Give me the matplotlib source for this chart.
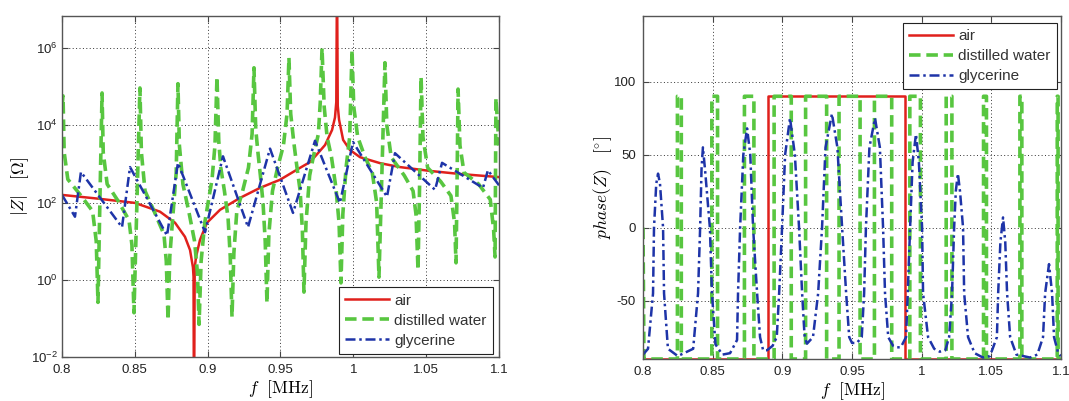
import matplotlib
matplotlib.use("Agg")
import matplotlib.pyplot as plt
from matplotlib.ticker import FixedLocator, FixedFormatter, NullLocator

plt.rcParams['font.family'] = ['Liberation Sans', 'DejaVu Sans']
plt.rcParams['mathtext.fontset'] = 'cm'

# ---------------- data ----------------
series_names = ['air', 'distilled water', 'glycerine']
xticks = [0.8, 0.85, 0.9, 0.95, 1.0, 1.05, 1.1]
xtick_labels = ['0.8', '0.85', '0.9', '0.95', '1', '1.05', '1.1']
z_yticks = [1e-2, 1e0, 1e2, 1e4, 1e6]
z_ytick_labels = [r'$\mathregular{10^{-2}}$', r'$\mathregular{10^{0}}$', r'$\mathregular{10^{2}}$',
                  r'$\mathregular{10^{4}}$', r'$\mathregular{10^{6}}$']
ph_yticks = [-50, 0, 50, 100]
ph_ytick_labels = ['-50', '0', '50', '100']

# |Z| of air (f in MHz, |Z| in Ohm)
air_f = [0.8, 0.825, 0.8501, 0.8673, 0.8776, 0.8844, 0.8879, 0.8899, 0.8903, 0.8906, 0.8911,
         0.892, 0.8947, 0.8995, 0.9085, 0.9222, 0.9359, 0.9497, 0.9634, 0.9703, 0.9757,
         0.9806, 0.9854, 0.9874, 0.9883, 0.9888, 0.9893, 0.9902, 0.993, 0.9977, 1.0046,
         1.0183, 1.032, 1.0526, 1.0732, 1.1]
air_z = [158, 126, 98, 58, 30, 13, 5.9, 2.1, 1.2, 1e-4, 2.0,
         3.9, 10.7, 30, 65, 132, 240, 390, 794, 1120, 1900,
         3100, 7600, 1.6e4, 4e4, 1e8, 3.2e4, 1.4e4, 4.2e3, 2.3e3, 1.5e3,
         1.05e3, 830, 660, 550, 457]

# |Z| of distilled water
water_f = [0.8, 0.8007, 0.8015, 0.804, 0.8125, 0.821, 0.8235, 0.8247,
           0.8261, 0.8275, 0.8283, 0.831, 0.8385, 0.846, 0.848, 0.8494,
           0.8514, 0.8535, 0.8545, 0.857, 0.8632, 0.870, 0.8716, 0.8728,
           0.874, 0.8762, 0.8784, 0.8796, 0.8806, 0.883, 0.887, 0.891, 0.893, 0.8941,
           0.8955, 0.898, 0.9003, 0.903, 0.905, 0.9064, 0.9076, 0.909, 0.9115, 0.914, 0.9155, 0.9167,
           0.918, 0.920, 0.924, 0.928, 0.9305, 0.9318, 0.933, 0.9345, 0.9362, 0.938, 0.9395, 0.9407,
           0.942, 0.9445, 0.948, 0.952, 0.9545, 0.9558, 0.957, 0.959, 0.961, 0.9635, 0.965, 0.9661,
           0.9675, 0.970, 0.9725, 0.976, 0.9773, 0.9785, 0.980, 0.982, 0.985, 0.988, 0.9902, 0.9915,
           0.9928, 0.995, 0.9975, 0.9991, 1.0003, 1.003, 1.008, 1.013, 1.016, 1.0176,
           1.0195, 1.0217, 1.023, 1.026, 1.035, 1.041, 1.043, 1.0444,
           1.0455, 1.0465, 1.0478, 1.051, 1.060, 1.067, 1.0695, 1.0705,
           1.0712, 1.0719, 1.0732, 1.076, 1.086, 1.094, 1.0963, 1.0973,
           1.0979, 1.1]
water_z = [3e4, 5.8e4, 2e3, 4e2, 160, 60, 10, 0.26,
           160, 6.9e4, 2e3, 300, 110, 35, 8, 0.14,
           90, 9.3e4, 2e3, 200, 60, 15, 3, 0.09,
           4, 50, 600, 1.2e5, 3e3, 300, 60, 10, 1.5, 0.07,
           3, 30, 100, 400, 3e3, 1.8e5, 4e3, 800, 200, 40, 4, 0.11,
           5, 60, 200, 800, 6e3, 3.1e5, 8e3, 2e3, 500, 100, 10, 0.25,
           15, 200, 800, 3e3, 2e4, 5.6e5, 2e4, 4e3, 1e3, 200, 20, 0.48,
           30, 500, 1.5e3, 6e3, 4e4, 1.0e6, 3e4, 5e3, 1.5e3, 250, 30, 0.83,
           50, 800, 5e3, 8.9e5, 3e4, 5e3, 1.5e3, 600, 100, 1.17,
           400, 4.2e5, 1e4, 1.5e3, 500, 200, 50, 1.8,
           300, 1.8e5, 5e3, 800, 350, 150, 30, 2.75,
           300, 8.7e4, 3e3, 600, 300, 120, 20, 3.9,
           5.1e4, 3e3]

# |Z| of glycerine
glyc_f = [0.8, 0.8089, 0.813, 0.8412, 0.8467, 0.8721, 0.8796, 0.8982, 0.9105, 0.9277,
          0.9428, 0.9586, 0.9737, 0.9908, 0.9998, 1.0231, 1.0286, 1.0561, 1.0609, 1.089,
          1.0924, 1.1]
glyc_z = [158, 43, 620, 23, 830, 14, 1070, 17, 1580, 23,
          2500, 54, 4000, 98, 3700, 141, 1900, 214, 1070, 240,
          690, 280]

# phase of air (degrees)
air_pf = [0.8, 0.8897, 0.8897, 0.988, 0.988, 1.1]
air_ph = [-90, -90, 90, 90, -90, -90]

# phase of distilled water (degrees)
water_pf = [0.8, 0.8007, 0.8247, 0.8247, 0.8275, 0.8275, 0.8494, 0.8494, 0.8535, 0.8535,
            0.8728, 0.8728, 0.8796, 0.8796, 0.8941, 0.8941, 0.9064, 0.9064, 0.9167, 0.9167,
            0.9318, 0.9318, 0.9407, 0.9407, 0.9558, 0.9558, 0.9661, 0.9661, 0.9785, 0.9785,
            0.9915, 0.9915, 0.9991, 0.9991, 1.0176, 1.0176, 1.0217, 1.0217, 1.0444, 1.0444,
            1.0465, 1.0465, 1.0705, 1.0705, 1.0719, 1.0719, 1.0973, 1.0973, 1.0979, 1.0979, 1.1]
water_ph = [0, -90, -90, 90, 90, -90, -90, 90, 90, -90,
            -90, 90, 90, -90, -90, 90, 90, -90, -90, 90,
            90, -90, -90, 90, 90, -90, -90, 90, 90, -90,
            -90, 90, 90, -90, -90, 90, 90, -90, -90, 90,
            90, -90, -90, 90, 90, -90, -90, 90, 90, -90, -90]

# phase of glycerine (degrees)
glyc_pf = [0.800, 0.8036, 0.8072, 0.8079, 0.8095, 0.8108, 0.8122, 0.8144, 0.8151, 0.8179, 0.825,
           0.836, 0.8395, 0.841, 0.842, 0.843, 0.8445, 0.848, 0.8495, 0.852, 0.857,
           0.8625, 0.8675, 0.8682, 0.8697, 0.872, 0.8747, 0.877, 0.879, 0.8819, 0.884, 0.8862,
           0.889, 0.893, 0.896, 0.8977, 0.8998, 0.902, 0.9055, 0.909, 0.912, 0.9142, 0.916, 0.9177,
           0.922, 0.9257, 0.9285, 0.931, 0.9356, 0.9395, 0.9429, 0.9458, 0.948, 0.950,
           0.9535, 0.957, 0.9587, 0.960, 0.9625, 0.9665, 0.970, 0.9723, 0.9737, 0.976, 0.9795, 0.982,
           0.985, 0.9888, 0.990, 0.9917, 0.9935, 0.9959, 0.998, 1.0003, 1.001, 1.0046, 1.009, 1.013,
           1.017, 1.0197, 1.0218, 1.0233, 1.0245, 1.026, 1.0275, 1.0297, 1.0305, 1.0333, 1.038, 1.044,
           1.049, 1.054, 1.0549, 1.0565, 1.0584, 1.060, 1.0613, 1.0635, 1.068, 1.0778,
           1.083, 1.0871, 1.0886, 1.0914, 1.0936, 1.095, 1.098, 1.1]
glyc_ph = [-87, -83, -45, 0, 30, 37, 30, 0, -45, -83, -88,
           -83, -45, 0, 40, 55, 40, 0, -45, -80, -87,
           -86, -77, -45, 0, 50, 68, 50, 0, -45, -75, -84,
           -84, -81, -75, -45, 0, 50, 75, 50, 0, -45, -75, -79.5,
           -75, -45, 0, 55, 78, 55, 0, -45, -75, -79,
           -79, -75, -45, 0, 55, 75, 55, 0, -45, -75, -81, -82,
           -82, -75, -45, 0, 45, 64, 45, 0, -45, -75, -83, -85,
           -84, -75, -45, 0, 25, 37, 25, 0, -45, -75, -86, -89,
           -88, -75, -45, -10, 7, -10, -45, -75, -87, -89,
           -87, -75, -45, -25, -45, -75, -86, -88]

# ---------------- style ----------------
c_air = '#e0201c'
c_water = '#58c640'
c_glyc = '#1e34a8'
grid_kw = dict(color='#333333', linestyle=(0, (1, 2.5)), linewidth=0.7)

fig = plt.figure(figsize=(10.69, 4.01), dpi=100)
ax1 = fig.add_axes([62 / 1069, 1 - 357 / 401, 437 / 1069, 341 / 401])
ax2 = fig.add_axes([643 / 1069, 1 - 359 / 401, 418 / 1069, 343 / 401])


def style_axes(ax):
    ax.set_xlim(0.8, 1.1)
    ax.xaxis.set_major_locator(FixedLocator(xticks))
    ax.xaxis.set_major_formatter(FixedFormatter(xtick_labels))
    ax.tick_params(direction='in', top=True, right=True, length=4, width=0.8,
                   labelsize=9.5, labelcolor='#222222', color='#444444', pad=5)
    ax.grid(True, **grid_kw)
    for s in ax.spines.values():
        s.set_color('#555555')
        s.set_linewidth(1.0)


def style_legend(leg):
    leg.get_frame().set_linewidth(0.8)
    for t in leg.get_texts():
        t.set_color('#333333')


leg_kw = dict(borderaxespad=0, fancybox=False, edgecolor='#222222', fontsize=11,
              handlelength=2.9, handletextpad=0.35, labelspacing=0.4, borderpad=0.4,
              framealpha=1)

# left: |Z|
ax1.plot(air_f, air_z, color=c_air, lw=1.8, label=series_names[0])
ax1.plot(water_f, water_z, color=c_water, lw=2.6, ls=(0, (3.2, 1.6)), label=series_names[1])
ax1.plot(glyc_f, glyc_z, color=c_glyc, lw=1.8, ls=(0, (4, 1.5, 1, 1.5)), label=series_names[2])
ax1.set_yscale('log')
ax1.set_ylim(1e-2, 6.8e6)
ax1.yaxis.set_major_locator(FixedLocator(z_yticks))
ax1.yaxis.set_major_formatter(FixedFormatter(z_ytick_labels))
ax1.yaxis.set_minor_locator(NullLocator())
style_axes(ax1)
ax1.tick_params(axis='y', pad=3)
ax1.set_xlabel(r'$f\ \ [\mathrm{MHz}]$', fontsize=12.5, labelpad=2)
ax1.set_ylabel(r'$|Z|\ \ \ [\Omega]$', fontsize=12.5, labelpad=0)
leg1 = ax1.legend(loc='lower right', bbox_to_anchor=(0.986, 0.009), **leg_kw)
style_legend(leg1)

# right: phase
ax2.plot(air_pf, air_ph, color=c_air, lw=1.8, label=series_names[0])
ax2.plot(water_pf, water_ph, color=c_water, lw=2.6, ls=(0, (3.2, 1.6)), label=series_names[1])
ax2.plot(glyc_pf, glyc_ph, color=c_glyc, lw=1.8, ls=(0, (4, 1.5, 1, 1.5)), label=series_names[2])
ax2.set_ylim(-90, 145)
ax2.yaxis.set_major_locator(FixedLocator(ph_yticks))
ax2.yaxis.set_major_formatter(FixedFormatter(ph_ytick_labels))
style_axes(ax2)
ax2.set_xlabel(r'$f\ \ [\mathrm{MHz}]$', fontsize=12.5, labelpad=2)
ax2.set_ylabel(r'$phase(Z)\ \ \ [^{\circ}]$', fontsize=12.5, labelpad=0)
leg2 = ax2.legend(loc='upper right', bbox_to_anchor=(0.990, 0.980), **leg_kw)
style_legend(leg2)

fig.savefig('out.png', dpi=100)
